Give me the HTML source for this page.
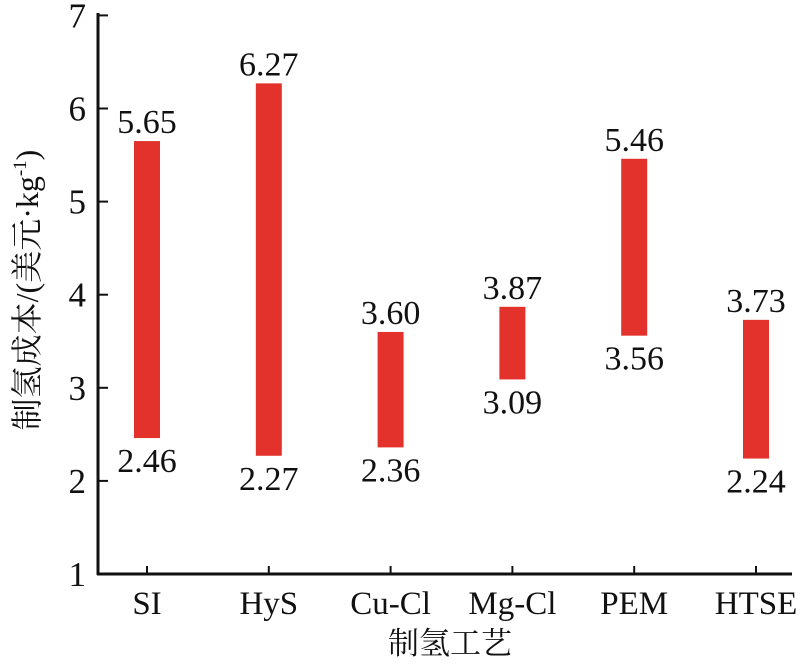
<!DOCTYPE html>
<html><head><meta charset="utf-8"><style>
body{margin:0;background:#fff}
svg text{font-family:"Liberation Serif","Times New Roman","Noto Serif CJK SC",serif;fill:#111}
</style></head><body>
<svg width="800" height="666">
<g id="g"></g>
</svg>
<script>
const categories=["SI","HyS","Cu-Cl","Mg-Cl","PEM","HTSE"];
const lowValues=[2.46,2.27,2.36,3.09,3.56,2.24];
const highValues=[5.65,6.27,3.60,3.87,5.46,3.73];
const yTicks=[1,2,3,4,5,6,7];
const NS="http://www.w3.org/2000/svg";
const g=document.getElementById('g');
const y=v=>574-(v-1)*93.1;
const x=i=>147+i*121.8;
function mk(t,a,txt){const e=document.createElementNS(NS,t);for(const k in a)e.setAttribute(k,a[k]);if(txt!=null)e.textContent=txt;g.appendChild(e);return e;}
let e=mk('line',{x1:98,y1:13,x2:98,y2:575,stroke:'#111','stroke-width':3});


e=mk('line',{x1:97,y1:574,x2:792,y2:574,stroke:'#111','stroke-width':3});


yTicks.forEach(v=>{
 let t=mk('line',{x1:98,y1:y(v),x2:108,y2:y(v),stroke:'#111','stroke-width':2});
 
 
 let l=mk('text',{x:86,y:y(v)+12,'text-anchor':'end','font-size':35},v);
 
 
});
categories.forEach((c,i)=>{
 let t=mk('line',{x1:x(i),y1:574,x2:x(i),y2:566,stroke:'#111','stroke-width':2});
 
 
 let l=mk('text',{x:x(i),y:614,'text-anchor':'middle','font-size':33},c);
 
 
 let b=mk('rect',{x:x(i)-13,y:y(highValues[i]),width:26,height:y(lowValues[i])-y(highValues[i]),fill:'#e3312b'});
 
 
 let h=mk('text',{x:x(i),y:y(highValues[i])-8,'text-anchor':'middle','font-size':34},highValues[i].toFixed(2));
 
 
 let lo=mk('text',{x:x(i),y:y(lowValues[i])+34,'text-anchor':'middle','font-size':34},lowValues[i].toFixed(2));
 
 
});
e=mk('text',{x:450,y:654,'text-anchor':'middle','font-size':31},'制氢工艺');


e=mk('text',{x:0,y:0,'text-anchor':'middle','font-size':32,transform:'translate(38,290) rotate(-90)'},'');


e.innerHTML='制氢成本/(美元·kg<tspan dy="-12" font-size="19">-1</tspan><tspan dy="12">)</tspan>';
</script>
</body></html>
